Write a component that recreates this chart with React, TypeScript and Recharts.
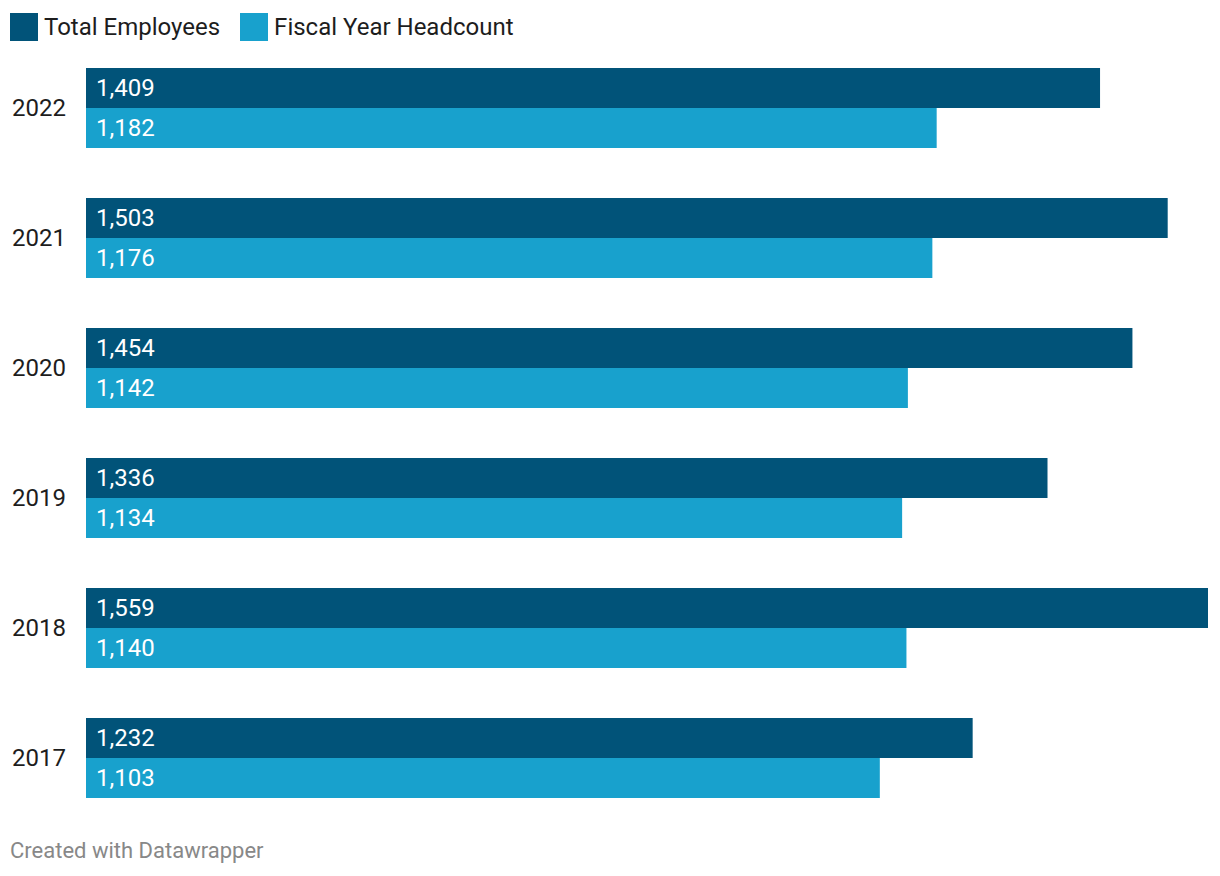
import { BarChart, Bar, XAxis, YAxis, LabelList } from 'recharts';

const years = ['2022', '2021', '2020', '2019', '2018', '2017'];
const totalEmployees = [1409, 1503, 1454, 1336, 1559, 1232];
const fiscalHeadcount = [1182, 1176, 1142, 1134, 1140, 1103];

const seriesNames = ['Total Employees', 'Fiscal Year Headcount'];
const seriesColors = ['#015379', '#18a1cd'];

const data = years.map((y, i) => ({
    year: y,
    total: totalEmployees[i],
    fiscal: fiscalHeadcount[i],
}));

const fmt = (v: any) => Number(v).toLocaleString('en-US');

export default function App() {
    return (
        <div style={{ position: 'absolute', left: 0, top: 0, width: 1220, height: 876, fontFamily: 'Roboto', background: '#fff' }}>
            {/* legend */}
            <div style={{ position: 'absolute', left: 10, top: 13, display: 'flex', alignItems: 'center' }}>
                {seriesNames.map((name, i) => (
                    <div key={name} style={{ display: 'flex', alignItems: 'center', marginRight: 20 }}>
                        <div style={{ width: 28, height: 28, background: seriesColors[i], marginRight: 6 }} />
                        <span style={{ fontSize: 24, color: '#1d1d1d', lineHeight: '28px' }}>{name}</span>
                    </div>
                ))}
            </div>

            <BarChart
                width={1220}
                height={876}
                data={data}
                layout="vertical"
                margin={{ top: 43, right: 12, bottom: 53, left: 0 }}
                barCategoryGap={25}
                barGap={0}
            >
                <XAxis type="number" domain={[0, 1559]} hide />
                <YAxis
                    type="category"
                    dataKey="year"
                    width={86}
                    axisLine={false}
                    tickLine={false}
                    tickSize={0}
                    tickMargin={20}
                    tick={{ fontSize: 24, fill: '#1d1d1d', fontFamily: 'Roboto', dy: -1 }}
                />
                <Bar dataKey="total" fill={seriesColors[0]} isAnimationActive={false}>
                    <LabelList dataKey="total" position="insideLeft" offset={10} fill="#fff" fontSize={24} fontFamily="Roboto" dy={-1} formatter={fmt} />
                </Bar>
                <Bar dataKey="fiscal" fill={seriesColors[1]} isAnimationActive={false}>
                    <LabelList dataKey="fiscal" position="insideLeft" offset={10} fill="#fff" fontSize={24} fontFamily="Roboto" dy={-1} formatter={fmt} />
                </Bar>
            </BarChart>

            <div style={{ position: 'absolute', left: 10, top: 837, fontSize: 22, lineHeight: '28px', color: '#888' }}>
                Created with Datawrapper
            </div>
        </div>
    );
}
